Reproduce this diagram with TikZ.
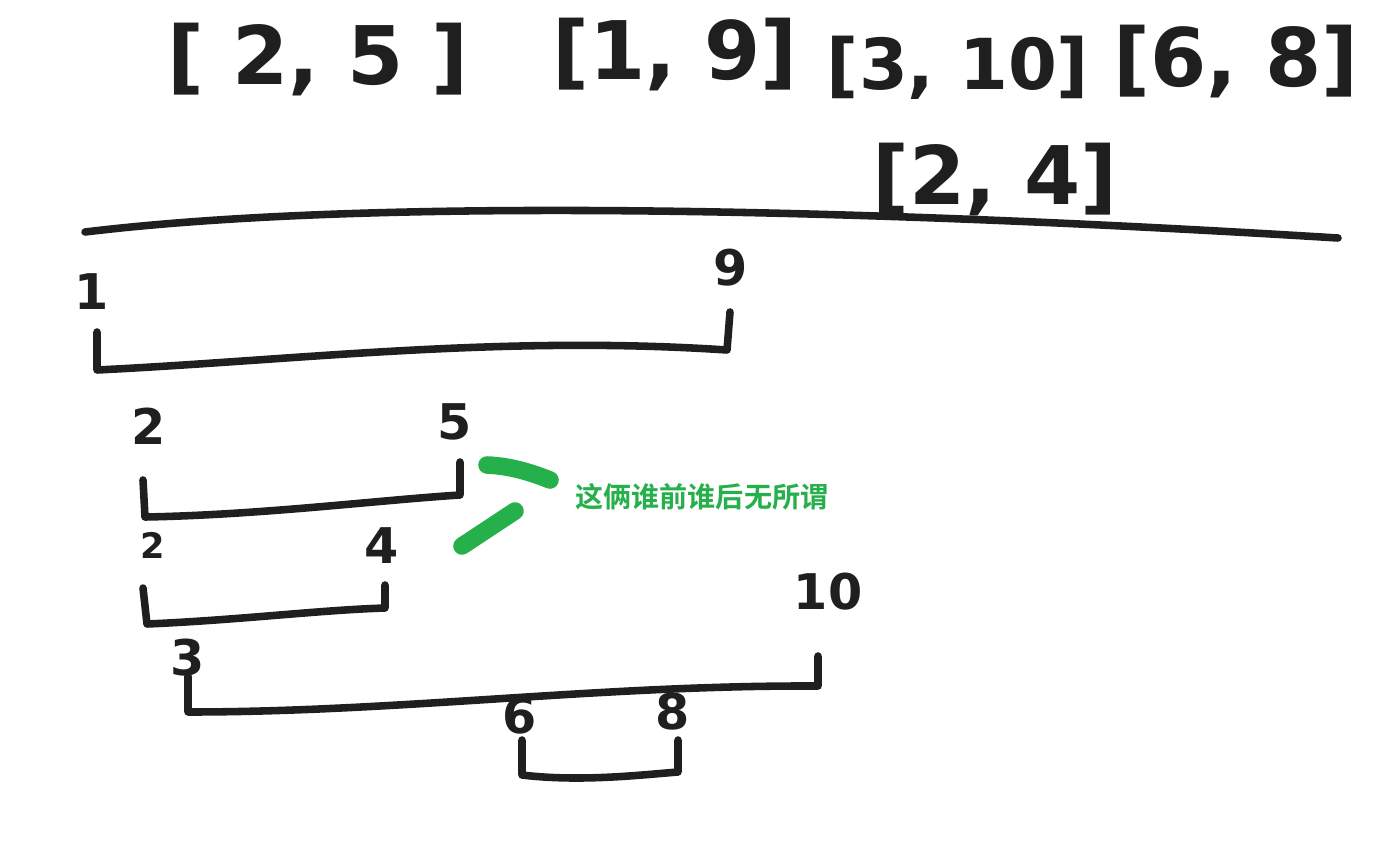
\documentclass[tikz,border=0pt]{standalone}
\usepackage{fontspec}
\setmainfont{DejaVu Sans}
\newfontfamily\cjk{Noto Sans CJK SC Bold}
\usepackage{xcolor}
\usetikzlibrary{positioning}
\definecolor{marker}{RGB}{38,176,76}

\begin{document}
\begin{tikzpicture}[x=0.02cm, y=-0.02cm,
  pen/.style={line width=4.3pt, line cap=round, line join=round, black!88},
  big/.style={font=\fontsize{46}{48}\selectfont\bfseries, inner sep=0pt, black!88},
  lbl/.style={font=\fontsize{28}{30}\selectfont\bfseries, inner sep=0pt, black!88},
  hl/.style={line width=10pt, line cap=round, marker}]
\useasboundingbox (0,0) rectangle (1394,853);
% intervals as written at the top
\node[big] (i25) at (318,60)  {[~2,~5~]};
\node[big] (i19) at (675,55)  {[1, 9]};
\node[big, font=\fontsize{40}{42}\selectfont\bfseries] (i310) at (958,68) {[3, 10]};
\node[big] (i68) at (1236,62) {[6, 8]};
\node[big] (i24) at (995,180) {[2, 4]};
% axis
\coordinate (axl) at (85,232);
\coordinate (axr) at (1338,238);
\draw[pen] (axl) .. controls (350,200) and (800,205) .. (axr);
% [1,9]
\node[lbl] (n1) at (92,292) {1};
\node[lbl] (n9) at (731,268) {9};
\coordinate (a1) at (97,332); \coordinate (b1) at (97,370);
\coordinate (b9) at (727,350); \coordinate (a9) at (730,312);
\draw[pen] (a1) -- (b1) .. controls (300,360) and (500,335) .. (b9) -- (a9);
% [2,5]
\node[lbl] (n2) at (149,426) {2};
\node[lbl] (n5) at (455,422) {5};
\coordinate (a2) at (143,480); \coordinate (b2) at (145,517);
\coordinate (b5) at (460,495); \coordinate (a5) at (460,462);
\draw[pen] (a2) -- (b2) .. controls (260,515) and (380,500) .. (b5) -- (a5);
% [2,4]
\node[lbl, font=\fontsize{20}{22}\selectfont\bfseries] (m2) at (153,545) {2};
\node[lbl] (m4) at (382,546) {4};
\coordinate (c2) at (143,588); \coordinate (d2) at (147,624);
\coordinate (d4) at (385,608); \coordinate (c4) at (385,585);
\draw[pen] (c2) -- (d2) .. controls (240,620) and (320,610) .. (d4) -- (c4);
% [3,10]
\node[lbl] (n3) at (188,658) {3};
\node[lbl] (n10) at (828,592) {10};
\coordinate (a3) at (188,676); \coordinate (b3) at (188,712);
\coordinate (b10) at (818,686); \coordinate (a10) at (818,656);
\draw[pen] (a3) -- (b3) .. controls (400,712) and (600,685) .. (b10) -- (a10);
% [6,8]
\node[lbl] (n6) at (520,716) {6};
\node[lbl] (n8) at (673,712) {8};
\coordinate (a6) at (522,740); \coordinate (b6) at (522,775);
\coordinate (b8) at (678,772); \coordinate (a8) at (678,740);
\draw[pen] (a6) -- (b6) .. controls (580,782) and (640,775) .. (b8) -- (a8);
% note
\coordinate (h1) at (487,465); \coordinate (h2) at (550,480);
\coordinate (h3) at (462,546); \coordinate (h4) at (515,511);
\draw[hl] (h1) .. controls (510,466) and (530,472) .. (h2);
\draw[hl] (h3) -- (h4);
\node[anchor=west, inner sep=0pt, text=marker, font=\cjk\fontsize{16}{18}\selectfont]
  (note) at (575,497) {这俩谁前谁后无所谓};
\end{tikzpicture}
\end{document}
